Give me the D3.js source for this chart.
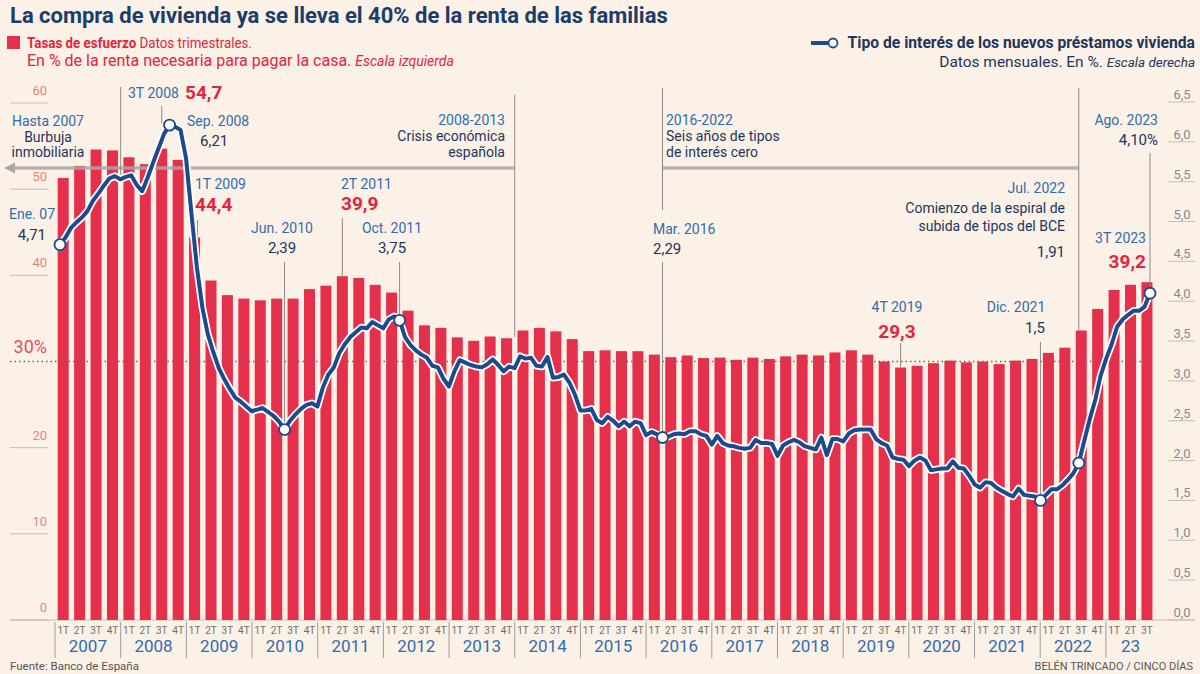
<!DOCTYPE html>
<html>
<head>
<meta charset="utf-8">
<script src="https://cdn.jsdelivr.net/npm/d3@7"></script>
<style>
  body { margin: 0; background: #fcf1e6; }
  svg text { font-family: Roboto, "Noto Sans", sans-serif; }
</style>
</head>
<body>
<script>
// ---- data ----
const years = ['2007','2008','2009','2010','2011','2012','2013','2014','2015','2016','2017','2018','2019','2020','2021','2022','23']
const quarterNames = ['1T','2T','3T','4T']

// tasa de esfuerzo, trimestral (% renta)
const effort = [
  51.3, 52.7, 54.6, 54.5,
  53.7, 52.9, 54.7, 53.4,
  44.4, 39.4, 37.7, 37.3,
  37.1, 37.3, 37.3, 38.4,
  38.8, 39.9, 39.7, 38.9,
  38.0, 35.9, 34.2, 33.9,
  32.8, 32.4, 32.9, 32.7,
  33.6, 33.9, 33.5, 32.6,
  31.2, 31.3, 31.2, 31.2,
  30.8, 30.5, 30.7, 30.4,
  30.45, 30.2, 30.45, 30.3,
  30.6, 30.8, 30.7, 31.05,
  31.3, 30.8, 30.0, 29.3,
  29.5, 29.8, 30.1, 29.9,
  30.0, 29.7, 30.1, 30.3,
  31.0, 31.6, 33.6, 36.1,
  38.3, 38.9, 39.2
]

// tipo de interés nuevos préstamos vivienda, mensual (%), ene 2007 - ago 2023
const rate = [
  4.71, 4.80, 4.92, 4.99, 5.05, 5.13, 5.26, 5.35, 5.45, 5.54, 5.57, 5.53,
  5.56, 5.58, 5.46, 5.38, 5.55, 5.74, 5.92, 6.10, 6.21, 6.19, 6.15, 5.80,
  5.10, 4.42, 3.92, 3.58, 3.36, 3.16, 3.02, 2.90, 2.79, 2.74, 2.68, 2.62,
  2.64, 2.66, 2.61, 2.56, 2.49, 2.39, 2.50, 2.58, 2.65, 2.70, 2.72, 2.68,
  2.92, 3.08, 3.17, 3.35, 3.46, 3.55, 3.61, 3.67, 3.66, 3.74, 3.70, 3.66,
  3.77, 3.81, 3.76, 3.55, 3.45, 3.38, 3.33, 3.29, 3.19, 3.17, 3.03, 2.93,
  3.12, 3.26, 3.23, 3.20, 3.18, 3.17, 3.21, 3.27, 3.20, 3.12, 3.18, 3.16,
  3.31, 3.28, 3.29, 3.19, 3.18, 3.30, 3.04, 3.05, 3.08, 2.98, 2.83, 2.63,
  2.63, 2.65, 2.51, 2.47, 2.55, 2.50, 2.43, 2.49, 2.43, 2.49, 2.47, 2.32,
  2.36, 2.33, 2.29, 2.30, 2.33, 2.34, 2.33, 2.37, 2.37, 2.33, 2.31, 2.20,
  2.31, 2.22, 2.19, 2.18, 2.16, 2.15, 2.16, 2.26, 2.22, 2.22, 2.21, 2.06,
  2.19, 2.23, 2.26, 2.23, 2.18, 2.16, 2.14, 2.29, 2.07, 2.27, 2.27, 2.24,
  2.34, 2.38, 2.39, 2.39, 2.39, 2.27, 2.22, 2.19, 2.04, 2.02, 2.01, 1.93,
  2.00, 2.04, 2.00, 1.88, 1.89, 1.90, 1.90, 1.99, 1.91, 1.90, 1.81, 1.70,
  1.66, 1.73, 1.72, 1.66, 1.62, 1.58, 1.55, 1.65, 1.57, 1.56, 1.55, 1.50,
  1.57, 1.64, 1.64, 1.69, 1.76, 1.84, 1.97, 2.25, 2.52, 2.76, 3.07, 3.28,
  3.46, 3.68, 3.77, 3.83, 3.88, 3.88, 3.93, 4.10
]

const leftTicks = [0, 10, 20, 40, 50, 60]
const rightTicks = [0, 0.5, 1, 1.5, 2, 2.5, 3, 3.5, 4, 4.5, 5, 5.5, 6, 6.5]
const markedMonths = [0, 20, 41, 62, 110, 179, 186, 199]

const quarterKeys = []
years.forEach(y => quarterNames.forEach(q => { if (quarterKeys.length < effort.length) quarterKeys.push(y + ' ' + q) }))

// ---- colours ----
const RED = '#e4304b', NAVY = '#1d4a8c', BLUE = '#2f6db0', INK = '#1d3560', VRED = '#e3243f', GRID = '#c9bdb2'

const w = 1200, h = 674
const svg = d3.select('body').append('svg').attr('width', w).attr('height', h)
svg.append('rect').attr('width', w).attr('height', h).attr('fill', '#fcf1e6')

const x = d3.scaleBand().domain(quarterKeys).range([55, 55 + 67 * 16.42]).paddingInner(0.33).paddingOuter(0.165)
const qStart = i => x.range()[0] + i * x.step()
const xm = d3.scaleLinear().domain([0, rate.length - 1]).range([60, 1150])
const yL = d3.scaleLinear().domain([0, 60]).range([620, 103])
const yR = d3.scaleLinear().domain([0, 6.5]).range([620, 102])

// ---- left axis ----
svg.append('line').attr('x1', 10).attr('x2', 1195).attr('y1', yL(0)).attr('y2', yL(0)).attr('stroke', GRID)
leftTicks.forEach(t => {
  svg.append('line').attr('x1', 10).attr('x2', 48).attr('y1', yL(t)).attr('y2', yL(t)).attr('stroke', GRID)
  svg.append('text').attr('x', 47).attr('y', yL(t) - 8).attr('text-anchor', 'end')
    .attr('font-size', 13).attr('fill', '#e6837e').text(t)
})
svg.append('text').attr('x', 47).attr('y', yL(30) - 9).attr('text-anchor', 'end')
  .attr('font-size', 18).attr('fill', '#e2505c').text('30%')

// ---- right axis ----
rightTicks.forEach(t => {
  svg.append('line').attr('x1', 1168).attr('x2', 1195).attr('y1', yR(t)).attr('y2', yR(t)).attr('stroke', GRID)
  svg.append('text').attr('x', 1182).attr('y', yR(t) - 3).attr('text-anchor', 'middle')
    .attr('font-size', 13).attr('fill', '#8a8a8a').text(d3.format('.1f')(t).replace('.', ','))
})

// ---- bars ----
svg.selectAll('rect.bar').data(effort).enter().append('rect')
  .attr('class', 'bar')
  .attr('x', (d, i) => x(quarterKeys[i]))
  .attr('width', x.bandwidth())
  .attr('y', d => yL(d))
  .attr('height', d => yL(0) - yL(d))
  .attr('fill', RED)

// 30% reference
svg.append('line').attr('x1', 10).attr('x2', 1153).attr('y1', yL(30)).attr('y2', yL(30))
  .attr('stroke', '#6f6664').attr('stroke-width', 1.5).attr('stroke-dasharray', '1.5,3')

// ---- x axis ----
effort.forEach((d, i) => {
  svg.append('text').attr('x', x(quarterKeys[i]) + x.bandwidth() / 2).attr('y', 634)
    .attr('text-anchor', 'middle').attr('font-size', 10).attr('fill', '#6e6e6e').text(quarterNames[i % 4])
})
years.forEach((y, k) => {
  const n = Math.min(4, effort.length - k * 4)
  svg.append('line').attr('x1', qStart(k * 4)).attr('x2', qStart(k * 4)).attr('y1', 622).attr('y2', 658)
    .attr('stroke', '#9c9c9c')
  svg.append('text').attr('x', qStart(k * 4) + n * x.step() / 2).attr('y', 652)
    .attr('text-anchor', 'middle').attr('font-size', 17).attr('fill', BLUE).text(y)
})

// ---- period lines & leaders ----
const lead = (x0, y1, y2) => svg.append('line').attr('x1', x0).attr('x2', x0).attr('y1', y1).attr('y2', y2)
  .attr('stroke', '#8f8a88').attr('stroke-width', 1)
const band = (x1, x2) => svg.append('line').attr('x1', x1).attr('x2', x2).attr('y1', 168).attr('y2', 168)
  .attr('stroke', '#aca5a8').attr('stroke-opacity', 0.85).attr('stroke-width', 3.5)

band(14, qStart(4))
svg.append('path').attr('d', 'M4,168 L15,162.5 L15,173.5 Z').attr('fill', '#aca5a8')
band(qStart(4), qStart(28))
band(xm(110), xm(186))

const bc = i => x(quarterKeys[i]) + x.bandwidth() / 2
lead(qStart(4), 87, 175)
lead(qStart(28), 95, 337)
lead(xm(110), 88, 210)
lead(xm(110), 262, yR(rate[110]))
lead(xm(186), 88, yL(effort[62]))
lead(xm(199), 153, yR(rate[199]))
lead(bc(6), 106, 123)
lead(bc(8) + 3, 220, yL(effort[8]))
lead(xm(41), 262, yR(rate[41]))
lead(bc(17), 218, yL(effort[17]))
lead(xm(62), 262, yR(rate[62]))
lead(bc(51), 343, yL(effort[51]))
lead(xm(179), 342, yR(rate[179]))

// ---- rate line ----
const line = d3.line().x((d, i) => xm(i)).y(d => yR(d))
svg.append('path').attr('d', line(rate)).attr('fill', 'none').attr('stroke', '#fff')
  .attr('stroke-width', 7.5).attr('stroke-linejoin', 'round')
svg.append('path').attr('d', line(rate)).attr('fill', 'none').attr('stroke', NAVY)
  .attr('stroke-width', 4).attr('stroke-linejoin', 'round')
svg.selectAll('circle.mk').data(markedMonths).enter().append('circle')
  .attr('class', 'mk')
  .attr('cx', m => xm(m)).attr('cy', m => yR(rate[m])).attr('r', 5.5)
  .attr('fill', '#fff').attr('stroke', NAVY).attr('stroke-width', 1.8)

// ---- annotations ----
const styles = {
  date: { size: 14, fill: BLUE, weight: 400 },
  txt: { size: 14, fill: INK, weight: 400 },
  val: { size: 15, fill: INK, weight: 400 },
  red: { size: 19, fill: VRED, weight: 700 }
}
const notes = [
  ['Hasta 2007', 48, 126, 'middle', 'date'],
  ['Burbuja', 48, 142, 'middle', 'txt'],
  ['inmobiliaria', 48, 157, 'middle', 'txt'],
  ['Ene. 07', 55, 219, 'end', 'date'],
  ['4,71', 46, 240, 'end', 'val'],
  ['3T 2008', 128, 98, 'start', 'date'],
  ['54,7', 185, 99, 'start', 'red'],
  ['Sep. 2008', 187, 126, 'start', 'date'],
  ['6,21', 200, 146, 'start', 'val'],
  ['1T 2009', 195, 189, 'start', 'date'],
  ['44,4', 195, 211, 'start', 'red'],
  ['Jun. 2010', 282, 233, 'middle', 'date'],
  ['2,39', 282, 253, 'middle', 'val'],
  ['2T 2011', 341, 189, 'start', 'date'],
  ['39,9', 341, 210, 'start', 'red'],
  ['Oct. 2011', 392, 233, 'middle', 'date'],
  ['3,75', 392, 253, 'middle', 'val'],
  ['2008-2013', 505, 125, 'end', 'date'],
  ['Crisis económica', 505, 141, 'end', 'txt'],
  ['española', 505, 157, 'end', 'txt'],
  ['2016-2022', 666, 125, 'start', 'date'],
  ['Seis años de tipos', 666, 141, 'start', 'txt'],
  ['de interés cero', 666, 157, 'start', 'txt'],
  ['Mar. 2016', 653, 234, 'start', 'date'],
  ['2,29', 653, 254, 'start', 'val'],
  ['4T 2019', 897, 312, 'middle', 'date'],
  ['29,3', 897, 338, 'middle', 'red'],
  ['Dic. 2021', 1016, 312, 'middle', 'date'],
  ['1,5', 1035, 333, 'middle', 'val'],
  ['Jul. 2022', 1065, 193, 'end', 'date'],
  ['Comienzo de la espiral de', 1065, 213, 'end', 'txt'],
  ['subida de tipos del BCE', 1065, 231, 'end', 'txt'],
  ['1,91', 1065, 257, 'end', 'val'],
  ['Ago. 2023', 1158, 125, 'end', 'date'],
  ['4,10%', 1158, 145, 'end', 'val'],
  ['3T 2023', 1146, 243, 'end', 'date'],
  ['39,2', 1146, 268, 'end', 'red']
]
notes.forEach(([t, nx, ny, anchor, kind]) => {
  const s = styles[kind]
  svg.append('text').attr('x', nx).attr('y', ny).attr('text-anchor', anchor)
    .attr('font-size', s.size).attr('font-weight', s.weight).attr('fill', s.fill).text(t)
})

// ---- header ----
function squeeze(t, target, ax) {
  const bw = t.node().getBBox().width
  if (bw > target) {
    const k = target / bw
    t.attr('transform', `translate(${ax},0) scale(${k},1) translate(${-ax},0)`)
  }
}
const title = svg.append('text').attr('x', 10).attr('y', 23).attr('font-size', 22).attr('font-weight', 700)
  .attr('fill', '#1a3d6b').text('La compra de vivienda ya se lleva el 40% de la renta de las familias')
squeeze(title, 658, 10)

svg.append('rect').attr('x', 7).attr('y', 36).attr('width', 13).attr('height', 13).attr('fill', RED)
const s1 = svg.append('text').attr('x', 27).attr('y', 48).attr('font-size', 15).attr('fill', VRED)
s1.append('tspan').attr('font-weight', 700).text('Tasas de esfuerzo')
s1.append('tspan').text(' Datos trimestrales.')
squeeze(s1, 225, 27)
const s2 = svg.append('text').attr('x', 27).attr('y', 66).attr('font-size', 16).attr('fill', VRED)
s2.append('tspan').text('En % de la renta necesaria para pagar la casa. ')
s2.append('tspan').attr('font-style', 'italic').attr('font-size', 14).text('Escala izquierda')
squeeze(s2, 430, 27)

svg.append('line').attr('x1', 811).attr('x2', 829).attr('y1', 43).attr('y2', 43).attr('stroke', NAVY).attr('stroke-width', 4)
svg.append('circle').attr('cx', 833).attr('cy', 43).attr('r', 4.5).attr('fill', '#fff').attr('stroke', NAVY).attr('stroke-width', 1.8)
const l1 = svg.append('text').attr('x', 1195).attr('y', 48).attr('text-anchor', 'end').attr('font-size', 16)
  .attr('font-weight', 700).attr('fill', INK).text('Tipo de interés de los nuevos préstamos vivienda')
squeeze(l1, 348, 1195)
const l2 = svg.append('text').attr('x', 1195).attr('y', 67).attr('text-anchor', 'end').attr('font-size', 15.5).attr('fill', INK)
l2.append('tspan').text('Datos mensuales. En %. ')
l2.append('tspan').attr('font-style', 'italic').attr('font-size', 13.5).text('Escala derecha')
squeeze(l2, 256, 1195)

// ---- footer ----
svg.append('text').attr('x', 10).attr('y', 670).attr('font-size', 11.5).attr('fill', '#555').text('Fuente: Banco de España')
svg.append('text').attr('x', 1193).attr('y', 670).attr('text-anchor', 'end').attr('font-size', 11).attr('fill', '#555')
  .text('BELÉN TRINCADO / CINCO DÍAS')
</script>
</body>
</html>
